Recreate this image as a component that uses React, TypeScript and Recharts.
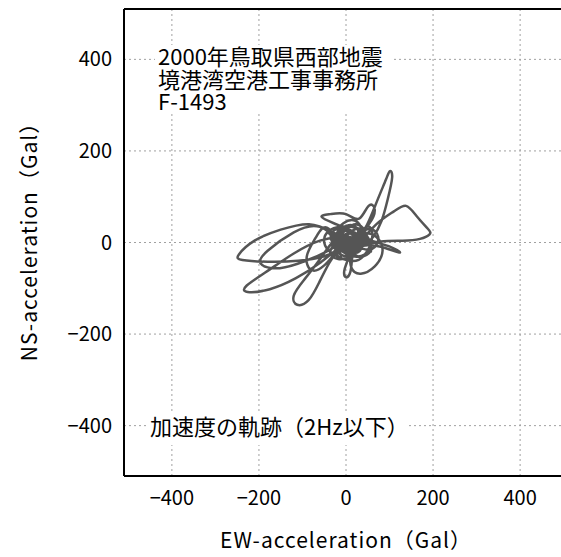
import {
  CartesianGrid,
  Label,
  Line,
  LineChart,
  ReferenceLine,
  XAxis,
  YAxis,
} from "recharts";

// acceleration trajectory (Gal) in drawing order
const ewAccel = [
  0, 12, 25, 8, -12, -6, 18, 34, 28, 4,
  22, 48, 72, 92, 101, 106, 96, 82, 62, 38,
  14, -8, -22, -10, 16,
  -30, -85, -150, -210, -246, -238, -180, -110, -50, -10,
  20, 40, 22, 0, -14, 6, 30,
  70, 110, 138, 162, 188, 192, 170, 130, 80, 40,
  18, -4, -24, -16, 10, 26,
  -10, -60, -120, -180, -228, -226, -175, -115, -62, -22,
  8, 28, 14, -10, -26, -14, 12,
  -18, -55, -95, -120, -112, -86, -62, -38, -12,
  16, 34, 20, -6, -18, 2,
  10, 4, -4, 0, 10, 14, 22,
  44, 70, 84, 66, 34, 12, 16,
  50, 90, 124, 98, 52,
  12, -28, -56, -36, 0, 30, 52, 66, 54, 26,
  -10, -60, -120, -180, -196, -152, -82, -24,
  10, 30, 14, -8, -20, 0, 24, 36, 20, -4,
  30, 56, 74, 60, 30, 10,
  -14, -32, -20, 4, 26, 42, 30, 8, -10, -28,
  -36, -18, 10, 36, 48, 34, 12, -8, -24, -12,
  -40, -70, -90, -80, -50, -20, 20, 50, 60, 40,
  10, -30, -50, -40, -10, 30, 55, 45, 15, -15,
  -35, -20, 10, 30, 20, -5,
  6, 22, 46, 58, 40, 16, -6, -30, -40, -22,
  0, 18, 8, -6, 4, 20, 40, 60,
];

const nsAccel = [
  0, 8, -4, -18, -6, 14, 22, 6, -14, -12,
  6, 38, 92, 138, 156, 142, 95, 48, 12, -6,
  4, 18, 6, -12, -8,
  22, 40, 28, 4, -26, -38, -42, -40, -30, -12,
  10, 28, 40, 28, 8, -8, 0,
  40, 68, 80, 58, 30, 18, 8, 4, 2, -2,
  18, 30, 16, -8, -16, -2,
  10, 4, -24, -62, -94, -108, -102, -78, -46, -16,
  2, 22, 38, 30, 10, -10, -4,
  8, -30, -80, -116, -136, -126, -88, -44, -10,
  12, 30, 48, 42, 22, 6,
  -10, -38, -62, -76, -64, -34, -6,
  18, 12, -18, -52, -68, -54, -20,
  -6, -12, -22, -8, 6,
  26, 42, 56, 62, 62, 52, 80, 72, 42, 16,
  4, 34, 22, -18, -46, -56, -36, -8,
  12, -10, -26, -14, 12, 26, 14, -8, -22, -4,
  20, 30, 12, -14, -10, 4,
  18, 6, -20, -30, -16, 10, 28, 34, 20, -4,
  -24, -36, -30, -10, 14, 30, 24, 4, -18, -30,
  30, 10, -30, -60, -50, -20, 10, 35, 10, -30,
  -40, -25, 0, 25, 35, 30, 0, -25, -30, -15,
  10, 30, 20, -5, -25, -20,
  -20, 0, 6, -14, -30, -26, -6, 12, 22, 8,
  -8, -16, 2, 14, 4, -8, -14, -20,
];

const axisTicks = [-400, -200, 0, 200, 400];
const titleLines = ["2000年鳥取県西部地震", "境港湾空港工事事務所", "F-1493"];
const noteText = "加速度の軌跡（2Hz以下）";
const xLabel = "EW-acceleration（Gal）";
const yLabel = "NS-acceleration（Gal）";

const data = ewAccel.map((ew, i) => ({ ew, ns: nsAccel[i] }));

const FONT = "'Noto Sans CJK JP', 'Noto Sans', sans-serif";
const DOMAIN: [number, number] = [-510, 510];

function formatTick(v: number) {
  return v < 0 ? `\u2212${Math.abs(v)}` : String(v);
}

function YTitle({ viewBox }: { viewBox?: { x: number; y: number; width: number; height: number } }) {
  if (!viewBox) return null;
  const cx = 20;
  const cy = viewBox.y + viewBox.height / 2 - 6;
  return (
    <text
      x={cx}
      y={cy}
      transform={`rotate(-90 ${cx} ${cy})`}
      textAnchor="middle"
      dominantBaseline="central"
      fontSize={21}
      letterSpacing={1}
      fontFamily={FONT}
      fill="#000"
    >
      {yLabel}
    </text>
  );
}

export default function App() {
  // fixed so the oversized plot never makes the page scroll
  return (
    <div
      style={{
        position: "fixed",
        left: 8,
        top: 8,
        width: 553,
        height: 549,
        overflow: "hidden",
        background: "#fff",
      }}
    >
      <LineChart
        width={562}
        height={549}
        data={data}
        margin={{ top: 1, right: 2, bottom: 0, left: 0 }}
      >
        <CartesianGrid stroke="#a0a0a0" strokeDasharray="2 3" strokeWidth={1} />
        <XAxis
          dataKey="ew"
          type="number"
          domain={DOMAIN}
          ticks={axisTicks}
          allowDataOverflow
          height={81}
          axisLine={{ stroke: "#000", strokeWidth: 2 }}
          tickLine={false}
          tickSize={0}
          tickMargin={15}
          tickFormatter={formatTick}
          tick={{ fontSize: 20, fontFamily: FONT, fill: "#000" }}
        >
          <Label
            value={xLabel}
            position="insideBottom"
            offset={9}
            style={{ fontSize: 21, letterSpacing: 1, fontFamily: FONT, fill: "#000" }}
          />
        </XAxis>
        <YAxis
          dataKey="ns"
          type="number"
          domain={DOMAIN}
          ticks={axisTicks}
          allowDataOverflow
          width={116}
          axisLine={{ stroke: "#000", strokeWidth: 2 }}
          tickLine={false}
          tickSize={0}
          tickMargin={12}
          tickFormatter={formatTick}
          tick={{ fontSize: 20, fontFamily: FONT, fill: "#000" }}
        >
          <Label content={YTitle} />
        </YAxis>
        <Line
          type="natural"
          dataKey="ns"
          stroke="#555"
          strokeWidth={2.5}
          dot={false}
          isAnimationActive={false}
        />
        <ReferenceLine y={DOMAIN[1]} stroke="#000" strokeWidth={2} ifOverflow="visible" />
        <ReferenceLine x={DOMAIN[1]} stroke="#000" strokeWidth={2} ifOverflow="visible" />
      </LineChart>
      <svg
        width={553}
        height={549}
        style={{ position: "absolute", left: 0, top: 0, pointerEvents: "none" }}
      >
        <rect x={147} y={37} width={237} height={68} fill="#fff" />
        {titleLines.map((line, i) => (
          <text
            key={line}
            x={150}
            y={57 + i * 22.5}
            fontSize={22}
            fontFamily={FONT}
            fill="#000"
          >
            {line}
          </text>
        ))}
        <rect x={138} y={404} width={260} height={33} fill="#fff" />
        <text x={142} y={427} fontSize={22} fontFamily={FONT} fill="#000">
          {noteText}
        </text>
      </svg>
    </div>
  );
}
